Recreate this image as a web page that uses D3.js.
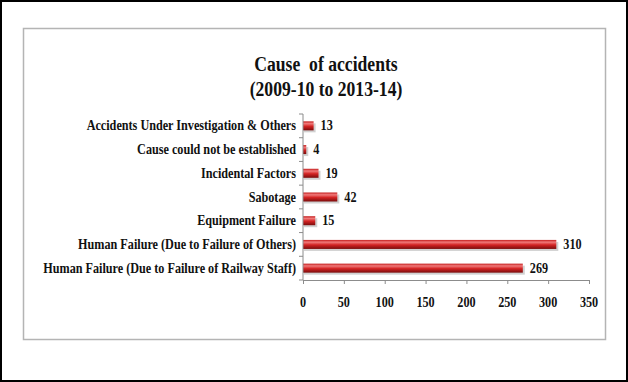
<!DOCTYPE html>
<html>
<head>
<meta charset="utf-8">
<script src="https://cdn.jsdelivr.net/npm/d3@7"></script>
<style>
  body { margin: 0; background: #fff; }
  text { font-family: "Liberation Serif", "Times New Roman", serif; font-weight: bold; fill: #111; white-space: pre; }
</style>
</head>
<body>
<svg id="chart"></svg>
<script>
// chart data
const causes = [
    'Accidents Under Investigation & Others',
    'Cause could not be established',
    'Incidental Factors',
    'Sabotage',
    'Equipment Failure',
    'Human Failure (Due to Failure of Others)',
    'Human Failure (Due to Failure of Railway Staff)'
];
const accidents = [13, 4, 19, 42, 15, 310, 269];
const xTicks = [0, 50, 100, 150, 200, 250, 300, 350];
const titleLines = ['Cause  of accidents', '(2009-10 to 2013-14)'];

const width = 628;
const height = 382;

let svg = d3.select('#chart')
    .attr('width', width)
    .attr('height', height);

// outer black frame + inner gray chart box
svg.append('rect')
    .attr('x', 1).attr('y', 1)
    .attr('width', width - 2).attr('height', height - 2)
    .attr('fill', 'none').attr('stroke', '#000').attr('stroke-width', 2);
svg.append('rect')
    .attr('x', 23.5).attr('y', 28.5)
    .attr('width', 582).attr('height', 311)
    .attr('fill', '#fff').attr('stroke', '#b4b4b4').attr('stroke-width', 1.5);

let defs = svg.append('defs');
let grad = defs.append('linearGradient')
    .attr('id', 'barGrad')
    .attr('x1', 0).attr('y1', 0).attr('x2', 0).attr('y2', 1);
grad.append('stop').attr('offset', '0%').attr('stop-color', '#c41d1d');
grad.append('stop').attr('offset', '25%').attr('stop-color', '#f07a7a');
grad.append('stop').attr('offset', '55%').attr('stop-color', '#d42424');
grad.append('stop').attr('offset', '100%').attr('stop-color', '#7a0c0c');

// text in the picture looks squashed sideways
function squeezedText(g, x, y, str, size, anchor, squeeze) {
    return g.append('text')
        .attr('transform', `translate(${x},${y}) scale(${squeeze || 0.87},1)`)
        .attr('text-anchor', anchor)
        .style('font-size', size + 'px')
        .text(str);
}

// title
titleLines.forEach((t, i) => {
    squeezedText(svg, 326, 71 + i * 25, t, 21, 'middle', 0.84);
});

let x = d3.scaleLinear()
    .domain([0, 350])
    .range([303, 589]);

let y = d3.scaleBand()
    .domain(causes)
    .range([114, 280])
    .paddingInner(0.62)
    .paddingOuter(0.31);

let axisColor = '#8c8c8c';

// bars: shadow first, then the bar
let bars = svg.append('g');
bars.selectAll('rect.shadow')
    .data(causes)
    .enter()
    .append('rect')
    .attr('class', 'shadow')
    .attr('x', x(0) + 1)
    .attr('y', d => y(d) + 2)
    .attr('width', (d, i) => x(accidents[i]) - x(0) + 1)
    .attr('height', y.bandwidth())
    .attr('fill', '#000')
    .attr('opacity', 0.18);
bars.selectAll('rect.bar')
    .data(causes)
    .enter()
    .append('rect')
    .attr('class', 'bar')
    .attr('x', x(0))
    .attr('y', d => y(d))
    .attr('width', (d, i) => x(accidents[i]) - x(0))
    .attr('height', y.bandwidth())
    .attr('fill', 'url(#barGrad)');

// value labels
causes.forEach((c, i) => {
    squeezedText(svg, x(accidents[i]) + 7, y(c) + y.bandwidth() / 2 + 4.5, accidents[i], 14, 'start');
});

// category labels
causes.forEach(c => {
    squeezedText(svg, 296, y(c) + y.bandwidth() / 2 + 4.5, c, 14, 'end');
});

// y axis with tick marks at band edges
let yAxis = svg.append('g');
yAxis.append('line')
    .attr('x1', x(0)).attr('x2', x(0))
    .attr('y1', 114).attr('y2', 280)
    .attr('stroke', axisColor);
d3.range(causes.length + 1).forEach(i => {
    let yy = 114 + i * (166 / causes.length);
    yAxis.append('line')
        .attr('x1', x(0) - 4).attr('x2', x(0))
        .attr('y1', yy).attr('y2', yy)
        .attr('stroke', axisColor);
});

// x axis
let xAxis = svg.append('g')
    .attr('transform', 'translate(0,280)')
    .call(d3.axisBottom(x).tickValues(xTicks).tickSize(4).tickSizeOuter(0).tickFormat(''));
xAxis.select('.domain').attr('stroke', axisColor);
xAxis.selectAll('.tick line').attr('stroke', axisColor);

xTicks.forEach(t => {
    squeezedText(svg, x(t), 307, t, 14, 'middle');
});
</script>
</body>
</html>
